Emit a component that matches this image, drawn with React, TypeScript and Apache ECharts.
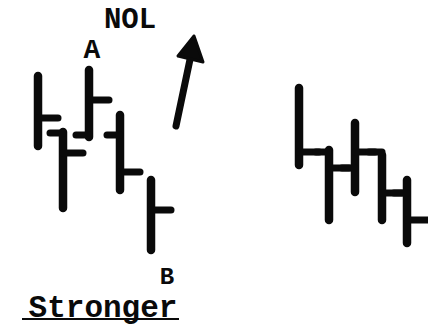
import React, { useEffect, useRef } from "react";
import * as echarts from "echarts";

// Bar positions (session axis) and prices (price axis) for the two bar patterns
const leftSessions = [38, 63, 89, 120, 151];
const leftHigh = [252, 196, 258, 213, 148];
const leftLow = [182, 120, 191, 138, 78];
const leftOpen: (number | null)[] = [null, 195, 193, 193, null];
const leftClose = [210, 175, 228, 156, 118];

const rightSessions = [299, 329, 355, 382, 407];
const rightHigh = [240, 178, 205, 173, 148];
const rightLow = [163, 108, 136, 108, 85];
const rightOpen: (number | null)[] = [null, 176, 160, 176, 135];
const rightClose = [176, 160, 176, 135, 108];

const labelTitle = "NOL";
const labelA = "A";
const labelB = "B";
const labelCaption = "Stronger";

function buildRows(s: number[], o: (number | null)[], c: number[], l: number[], h: number[]) {
  return s.map((x, i) => [x, o[i] == null ? -1 : o[i], c[i], l[i], h[i]]);
}

const INK = "#0a0a0a";

function renderItem(params: any, api: any) {
  const x = api.value(0);
  const open = api.value(1);
  const close = api.value(2);
  const low = api.value(3);
  const high = api.value(4);
  const pTop = api.coord([x, high]);
  const pBot = api.coord([x, low]);
  const pClose = api.coord([x, close]);
  const children: any[] = [
    {
      type: "line",
      shape: { x1: pTop[0], y1: pTop[1], x2: pBot[0], y2: pBot[1] },
      style: { stroke: INK, lineWidth: 8.5, lineCap: "round" },
    },
    {
      type: "line",
      shape: { x1: pClose[0], y1: pClose[1], x2: pClose[0] + 20, y2: pClose[1] },
      style: { stroke: INK, lineWidth: 7, lineCap: "round" },
    },
  ];
  if (open >= 0) {
    const pOpen = api.coord([x, open]);
    children.push({
      type: "line",
      shape: { x1: pOpen[0] - 13, y1: pOpen[1], x2: pOpen[0], y2: pOpen[1] },
      style: { stroke: INK, lineWidth: 7, lineCap: "round" },
    });
  }
  return { type: "group", children };
}

export default function App() {
  const ref = useRef<HTMLDivElement>(null);
  useEffect(() => {
    if (!ref.current) return;
    const chart = echarts.init(ref.current, null, { renderer: "svg" });
    const font = "'Liberation Mono', 'Courier New', monospace";
    chart.setOption({
      animation: false,
      backgroundColor: "#ffffff",
      grid: { left: 0, right: 0, top: 0, bottom: 0 },
      xAxis: { type: "value", min: 0, max: 428, show: false },
      yAxis: { type: "value", min: 0, max: 328, show: false },
      series: [
        {
          type: "custom",
          renderItem,
          encode: { x: 0, y: [2, 3, 4] },
          data: buildRows(leftSessions, leftOpen, leftClose, leftLow, leftHigh),
        },
        {
          type: "custom",
          renderItem,
          encode: { x: 0, y: [2, 3, 4] },
          data: buildRows(rightSessions, rightOpen, rightClose, rightLow, rightHigh),
        },
      ],
      graphic: [
        {
          type: "text",
          x: 130,
          y: 20,
          style: { text: labelTitle, font: `bold 29px ${font}`, fill: INK, align: "center", verticalAlign: "middle" },
        },
        {
          type: "text",
          x: 92,
          y: 50,
          style: { text: labelA, font: `bold 28px ${font}`, fill: INK, align: "center", verticalAlign: "middle" },
        },
        {
          type: "text",
          x: 167,
          y: 277,
          style: { text: labelB, font: `bold 24px ${font}`, fill: INK, align: "center", verticalAlign: "middle" },
        },
        {
          type: "text",
          x: 103,
          y: 308,
          style: { text: labelCaption, font: `bold 31px ${font}`, fill: INK, align: "center", verticalAlign: "middle" },
        },
        {
          type: "line",
          shape: { x1: 22, y1: 319, x2: 179, y2: 319 },
          style: { stroke: INK, lineWidth: 2 },
        },
        {
          type: "line",
          shape: { x1: 176, y1: 126, x2: 192, y2: 50 },
          style: { stroke: INK, lineWidth: 7, lineCap: "round" },
        },
        {
          type: "polygon",
          shape: { points: [[194, 36], [178, 56], [203, 62]] },
          style: { fill: INK, stroke: INK, lineWidth: 3, lineJoin: "round" },
        },
      ],
    });
    return () => chart.dispose();
  }, []);
  return (
    <div
      ref={ref}
      style={{ position: "fixed", left: 0, top: 0, width: 428, height: 328, background: "#fff" }}
    />
  );
}
